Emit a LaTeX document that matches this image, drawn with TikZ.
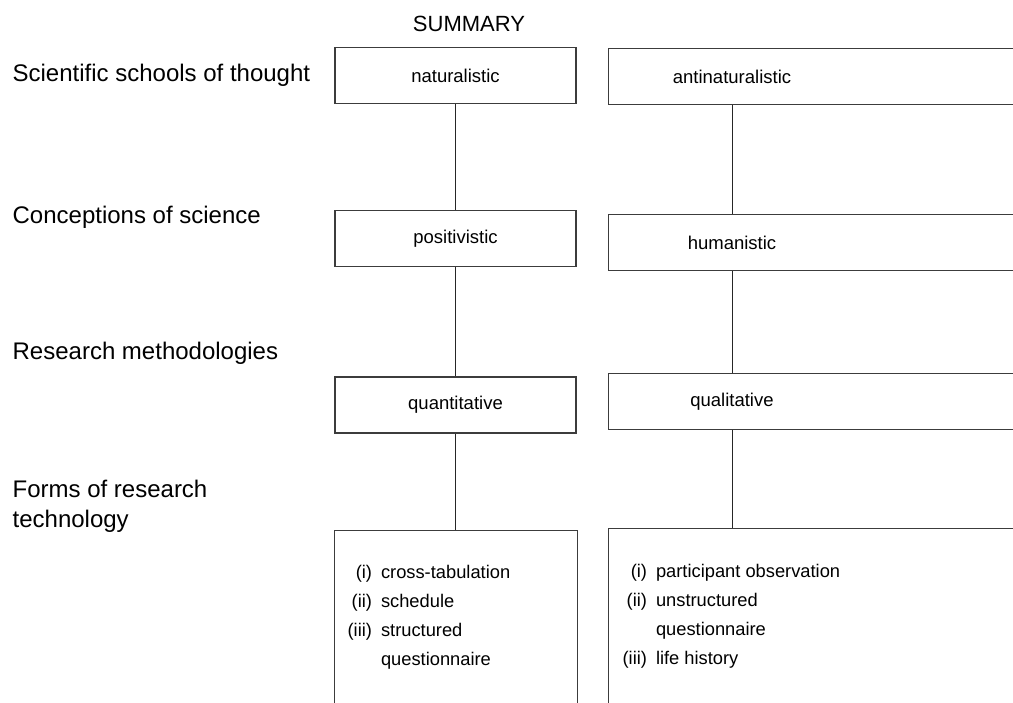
\documentclass[tikz,border=0pt]{standalone}
\usepackage{fontspec}
\setmainfont{Liberation Sans}
\usetikzlibrary{positioning}
\definecolor{linegray}{RGB}{60,60,60}

\begin{document}
\begin{tikzpicture}[x=1pt, y=-1pt, line width=1.3pt,
  box/.style={draw=linegray, rectangle, inner sep=0pt, minimum height=56pt},
  link/.style={draw=black!85, line width=1pt},
  rowlabel/.style={anchor=base west, inner sep=0pt, align=left, font=\fontsize{24}{30}\selectfont},
  boxtext/.style={font=\fontsize{18.5}{22}\selectfont},
  itemlist/.style={anchor=base west, inner sep=0pt, font=\fontsize{18.3}{29}\selectfont}]
  \path[use as bounding box, clip] (0,0) rectangle (1013,703);
  \coordinate (lcol) at (455.5,0);
  \coordinate (rcol) at (732,0);
  \node[font=\fontsize{22}{26}\selectfont] (summary) at (469,24) {SUMMARY};

  \node[rowlabel] (schools) at (12,82) {Scientific schools of thought};
  \node[rowlabel] (conceptions) at (12,224) {Conceptions of science};
  \node[rowlabel] (methods) at (12,360) {Research methodologies};
  \node[rowlabel] (forms) at (12,527) {Forms of research\\technology};

  \node[box, boxtext, minimum width=241] (natural) at (455.5,75.5) {naturalistic};
  \node[box, boxtext, minimum width=241] (positive) at (455.5,238.5) {positivistic};
  \node[box, boxtext, minimum width=241] (quant) at (455.5,405) {quantitative};
  \node[box, anchor=north west, minimum width=243, minimum height=200] (quantforms) at (334,530) {};

  \node[box, anchor=north west, minimum width=430] (antibox) at (608,48) {};
  \node[box, anchor=north west, minimum width=430] (humanbox) at (608,214) {};
  \node[box, anchor=north west, minimum width=430] (qualbox) at (608,373) {};
  \node[box, anchor=north west, minimum width=430, minimum height=200] (qualforms) at (608,528) {};
  \node[boxtext] (anti) at (antibox.center -| rcol) {antinaturalistic};
  \node[boxtext] (human) at (humanbox.center -| rcol) {humanistic};
  \node[boxtext] (qual) at (qualbox.center -| rcol) {qualitative};

  \draw[link] (natural.south) -- (positive.north);
  \draw[link] (positive.south) -- (quant.north);
  \draw[link] (quant.south) -- (quantforms.north -| lcol);
  \draw[link] (antibox.south -| rcol) -- (humanbox.north -| rcol);
  \draw[link] (humanbox.south -| rcol) -- (qualbox.north -| rcol);
  \draw[link] (qualbox.south -| rcol) -- (qualforms.north -| rcol);

  \node[itemlist] (quantlist) at (347,578) {\begin{tabular}[t]{@{}r@{\hspace{9pt}}l@{}}
    (i) & cross-tabulation\\ (ii) & schedule\\ (iii) & structured\\ & questionnaire\end{tabular}};
  \node[itemlist] (quallist) at (622,577) {\begin{tabular}[t]{@{}r@{\hspace{9pt}}l@{}}
    (i) & participant observation\\ (ii) & unstructured\\ & questionnaire\\ (iii) & life history\end{tabular}};
\end{tikzpicture}
\end{document}
